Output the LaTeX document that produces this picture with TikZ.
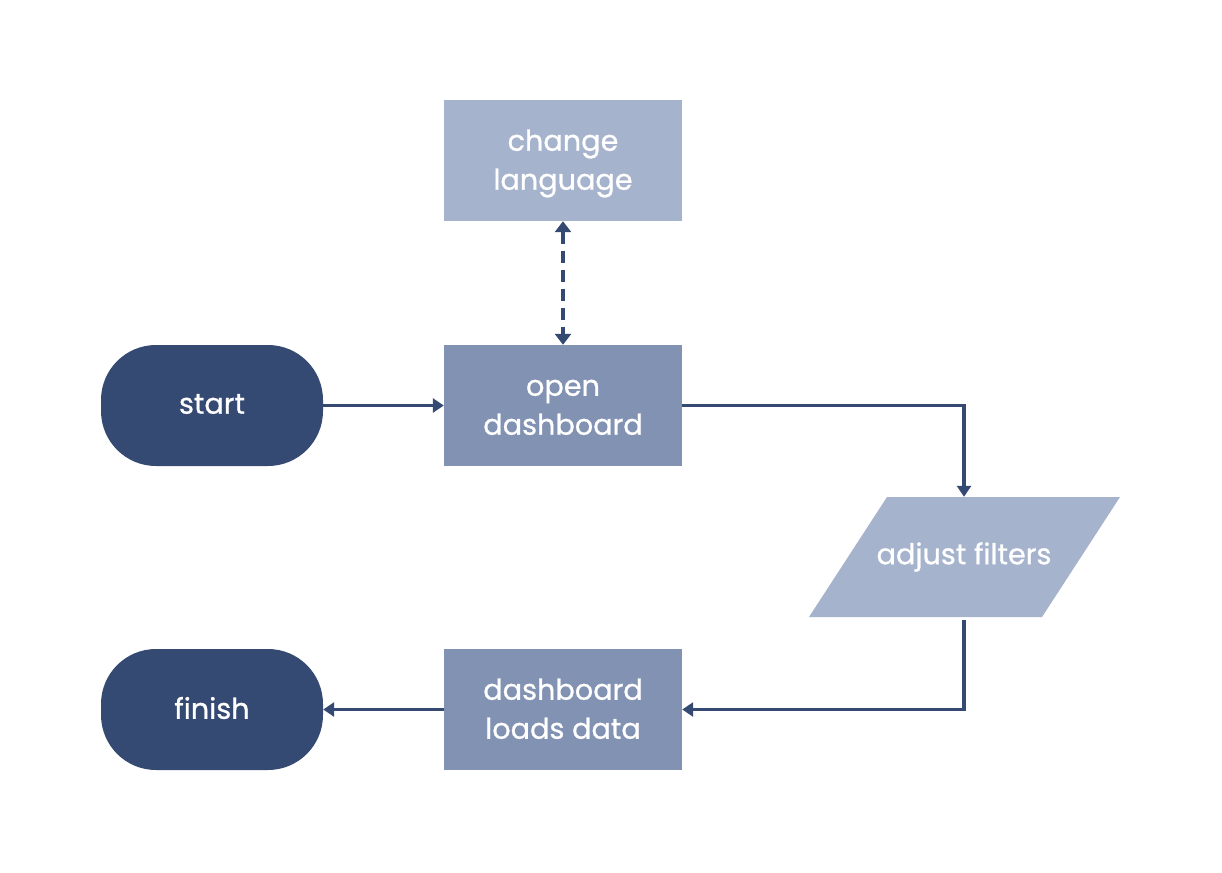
\documentclass[tikz,border=0pt]{standalone}
\usepackage{fontspec}
\setmainfont{Poppins}
\newfontfamily\pmed{Poppins}[UprightFeatures={FakeBold=0.8}]
\usetikzlibrary{arrows.meta}
\definecolor{cdark}{HTML}{354A72}
\definecolor{cmid}{HTML}{8292B3}
\definecolor{clight}{HTML}{A6B3CD}
\newcommand{\ls}{\vphantom{hg}}
\tikzset{
  base/.style={text=white, align=center, inner sep=0pt,
    font=\fontsize{28.7}{39}\selectfont\pmed},
  term/.style={base, fill=cdark, minimum width=222pt, minimum height=121pt, rounded corners=55pt},
  proc/.style={base, fill=cmid, minimum width=238pt, minimum height=121pt},
  procl/.style={base, fill=clight, minimum width=238pt, minimum height=121pt},
  txt/.style={base, yshift=-3pt},
  conn/.style={cdark, line width=3.3pt, -{Triangle[length=11pt,width=14pt]}},
}
\begin{document}
\begin{tikzpicture}[x=1pt,y=-1pt]
\useasboundingbox (0,0) rectangle (1222,872);
\node[term, label={[base, yshift=1.5pt]center:start}] (start) at (212,405.5) {};
\node[term, label={[base, yshift=1.5pt]center:finish}] (finish) at (212,709.5) {};
\node[procl, label={[txt]center:{change\ls\\language\ls}}] (lang) at (563,160.5) {};
\node[proc, label={[txt]center:{open\ls\\dashboard\ls}}] (open) at (563,405.5) {};
\node[proc, label={[txt]center:{dashboard\ls\\loads data\ls}}] (loads) at (563,709.5) {};
\fill[clight] (887,497) -- (1120,497) -- (1042,617) -- (809,617) -- cycle;
\node[base, minimum width=200pt, minimum height=120pt] (adj) at (964,557) {adjust filters};
\draw[conn] (start.east) -- (open.west);
\draw[conn] (open.east) -| (adj.north);
\draw[conn, shorten <=3pt] (adj.south) |- (loads.east);
\draw[conn] (loads.west) -- (finish.east);
\draw[cdark, line width=3.3pt, dash pattern=on 12pt off 7pt,
  {Triangle[length=11pt,width=16pt]}-{Triangle[length=11pt,width=16pt]}] (lang.south) -- (open.north);
\end{tikzpicture}
\end{document}
